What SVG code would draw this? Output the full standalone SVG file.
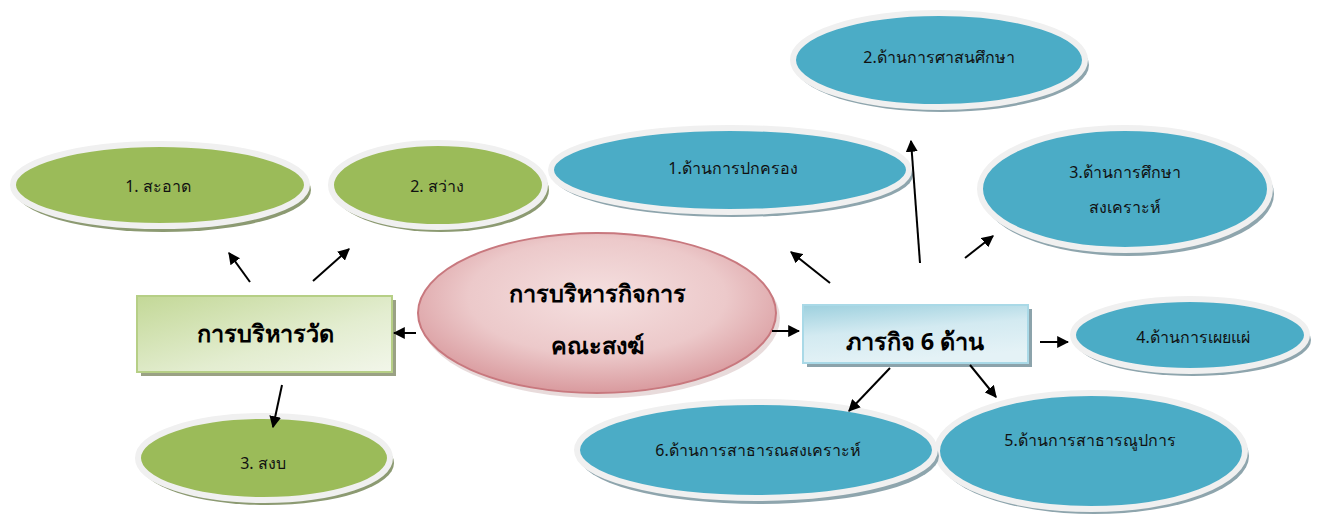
<svg xmlns="http://www.w3.org/2000/svg" width="1324" height="519" viewBox="0 0 1324 519">
  <style>
    .txt { font-family: "Noto Sans", "DejaVu Sans", "Liberation Sans", sans-serif; font-size: 16px; fill: #111; text-anchor: middle; dominant-baseline: central; }
    .title { font-family: "Noto Sans", "DejaVu Sans", "Liberation Sans", sans-serif; font-size: 23.5px; font-weight: bold; fill: #000; text-anchor: middle; dominant-baseline: central; }
    .green { fill: #9bbb59; stroke: #f0f0f0; stroke-width: 6; }
    .blue { fill: #4bacc6; stroke: #f0f0f0; stroke-width: 6; }
    .gshadow { fill: #8c9a72; }
    .bshadow { fill: #8ea5ad; }
    .conn line { stroke: #000; stroke-width: 2; marker-end: url(#arrow); }
  </style>
  <defs>
    <marker id="arrow" viewBox="0 0 10 10" refX="9" refY="5" markerWidth="6" markerHeight="6" markerUnits="strokeWidth" orient="auto">
      <path d="M0,0 L10,5 L0,10 z" fill="#000"/>
    </marker>
    <radialGradient id="pinkGrad" cx="0.5" cy="0.4" r="0.6">
      <stop offset="0" stop-color="#f5e0e0"/>
      <stop offset="0.6" stop-color="#ecc9ca"/>
      <stop offset="1" stop-color="#d99a9e"/>
    </radialGradient>
    <linearGradient id="greenGrad" x1="0" y1="0" x2="1" y2="1">
      <stop offset="0" stop-color="#c3d897"/>
      <stop offset="0.6" stop-color="#e3edd0"/>
      <stop offset="1" stop-color="#f2f6ea"/>
    </linearGradient>
    <linearGradient id="blueGrad" x1="0" y1="0" x2="0.3" y2="1">
      <stop offset="0" stop-color="#9dd0de"/>
      <stop offset="0.5" stop-color="#d3eaf1"/>
      <stop offset="1" stop-color="#e4f2f6"/>
    </linearGradient>
  </defs>

  <rect width="1324" height="519" fill="#fff"/>

  <!-- green ellipses -->
  <g id="g-clean">
    <ellipse class="gshadow" cx="163" cy="190" rx="148" ry="42"/>
    <ellipse class="green" cx="160" cy="185" rx="147" ry="41"/>
    <text class="txt" x="158" y="186">1. สะอาด</text>
  </g>
  <g id="g-bright">
    <ellipse class="gshadow" cx="441" cy="190" rx="108" ry="42"/>
    <ellipse class="green" cx="438" cy="185" rx="107" ry="42"/>
    <text class="txt" x="437" y="186">2. สว่าง</text>
  </g>
  <g id="g-calm">
    <ellipse class="gshadow" cx="267" cy="463" rx="127" ry="42"/>
    <ellipse class="green" cx="264" cy="458" rx="126" ry="42"/>
    <text class="txt" x="263" y="463">3. สงบ</text>
  </g>

  <!-- blue ellipses -->
  <g id="b-govern">
    <ellipse class="bshadow" cx="733" cy="175" rx="180" ry="42"/>
    <ellipse class="blue" cx="730" cy="170" rx="179" ry="42"/>
    <text class="txt" x="733" y="168">1.ด้านการปกครอง</text>
  </g>
  <g id="b-religion">
    <ellipse class="bshadow" cx="942" cy="65" rx="147" ry="47"/>
    <ellipse class="blue" cx="939" cy="60" rx="146" ry="47"/>
    <text class="txt" x="939" y="57">2.ด้านการศาสนศึกษา</text>
  </g>
  <g id="b-welfare-edu">
    <ellipse class="bshadow" cx="1128" cy="194" rx="146" ry="62"/>
    <ellipse class="blue" cx="1125" cy="189" rx="145" ry="61"/>
    <text class="txt" x="1125" y="172">3.ด้านการศึกษา</text>
    <text class="txt" x="1125" y="207">สงเคราะห์</text>
  </g>
  <g id="b-spread">
    <ellipse class="bshadow" cx="1193" cy="340" rx="118" ry="36"/>
    <ellipse class="blue" cx="1190" cy="335" rx="117" ry="36"/>
    <text class="txt" x="1193" y="337">4.ด้านการเผยแผ่</text>
  </g>
  <g id="b-public">
    <ellipse class="bshadow" cx="1094" cy="456" rx="155" ry="58"/>
    <ellipse class="blue" cx="1091" cy="451" rx="154" ry="58"/>
    <text class="txt" x="1090" y="440">5.ด้านการสาธารณูปการ</text>
  </g>
  <g id="b-public-welfare">
    <ellipse class="bshadow" cx="759" cy="456" rx="180" ry="48"/>
    <ellipse class="blue" cx="756" cy="450" rx="179" ry="48"/>
    <text class="txt" x="758" y="450">6.ด้านการสาธารณสงเคราะห์</text>
  </g>

  <!-- central pink ellipse -->
  <g id="center">
    <ellipse cx="600" cy="318" rx="180" ry="80" fill="#d9c3c3" opacity="0.6"/>
    <ellipse cx="597" cy="313" rx="179" ry="80" fill="url(#pinkGrad)" stroke="#c8787e" stroke-width="2"/>
    <text class="title" x="597" y="293">การบริหารกิจการ</text>
    <text class="title" x="597" y="345">คณะสงฆ์</text>
  </g>

  <!-- temple administration box -->
  <g id="temple-admin">
    <rect x="141" y="300" width="255" height="76" fill="#9aa184"/>
    <rect x="137" y="296" width="255" height="76" fill="url(#greenGrad)" stroke="#b6cf86" stroke-width="2"/>
    <text class="title" x="265" y="333">การบริหารวัด</text>
  </g>

  <!-- six missions box -->
  <g id="six-missions">
    <rect x="807" y="309" width="225" height="58" fill="#8ca3ab"/>
    <rect x="803" y="305" width="225" height="58" fill="url(#blueGrad)" stroke="#a9d9e7" stroke-width="2"/>
    <text class="title" x="915" y="341">ภารกิจ 6 ด้าน</text>
  </g>

  <!-- connectors, drawn over the shapes so arrowheads stay visible -->
  <g id="connectors" class="conn">
    <line x1="250" y1="282" x2="229" y2="253"/>
    <line x1="313" y1="281" x2="349" y2="249"/>
    <line x1="416" y1="333" x2="394" y2="333"/>
    <line x1="282" y1="385" x2="273" y2="427"/>
    <line x1="772" y1="331" x2="799" y2="331"/>
    <line x1="830" y1="283" x2="791" y2="252"/>
    <line x1="920" y1="263" x2="911" y2="141"/>
    <line x1="965" y1="258" x2="993" y2="236"/>
    <line x1="1040" y1="342" x2="1068" y2="342"/>
    <line x1="890" y1="368" x2="849" y2="411"/>
    <line x1="970" y1="365" x2="996" y2="397"/>
  </g>
</svg>
